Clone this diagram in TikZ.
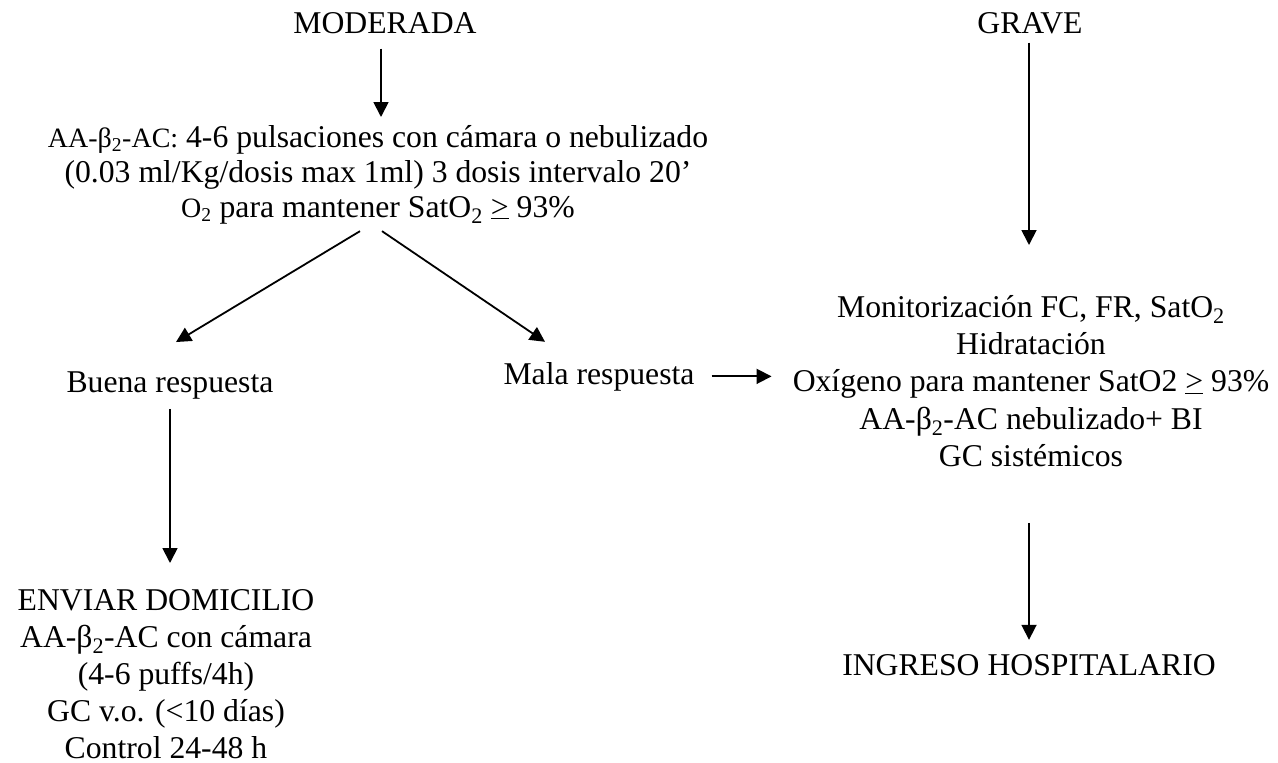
\documentclass[tikz,border=0pt]{standalone}
\usepackage{fontspec}
\setmainfont{Liberation Serif}
\usetikzlibrary{arrows.meta}
\newcommand\fsz{\fontsize{31.7}{35}\selectfont}
\newcommand\fszb{\fontsize{31.7}{37.3}\selectfont}
\newcommand\fszc{\fontsize{31.7}{37}\selectfont}
\newcommand\sml{\fontsize{28}{35}\selectfont}
\newcommand\geu{\underline{>}}
\newcommand\tstrut{\rule{0pt}{25pt}}
\tikzset{
  lbl/.style={inner sep=0pt, font=\fsz},
  blk/.style={inner sep=0pt, align=center, anchor=north},
  arr/.style={line width=1.8pt, -{Triangle[length=15pt,width=15pt]}},
}
\begin{document}
\begin{tikzpicture}[x=1pt,y=-1pt]
\useasboundingbox (0,0) rectangle (1278,763);
\node[lbl, anchor=base] (mod) at (385,33) {MODERADA};
\node[lbl, anchor=base] (grave) at (1030,33) {GRAVE};
\node[blk, font=\fsz] (top) at (378,122) {\tstrut{\sml AA-β\textsubscript{2}-AC:} 4-6 pulsaciones con cámara o nebulizado\\
(0.03 ml/Kg/dosis max 1ml) 3 dosis intervalo 20’\\
{\sml O\textsubscript{2}} para mantener SatO\textsubscript{2} \geu{} 93\%};
\node[lbl, anchor=base] (buena) at (170,392) {Buena respuesta};
\node[lbl, anchor=base] (mala) at (599,384) {Mala respuesta};
\node[blk, font=\fszb] (trat) at (1031,292) {\tstrut Monitorización FC, FR, SatO\textsubscript{2}\\
Hidratación\\
Oxígeno para mantener SatO2 \geu{} 93\%\\
AA-β\textsubscript{2}-AC nebulizado+ BI\\
GC sistémicos};
\node[blk, font=\fszc] (casa) at (166,585) {\tstrut ENVIAR DOMICILIO\\
AA-β\textsubscript{2}-AC con cámara\\
(4-6 puffs/4h)\\
GC v.o. (<10 días)\\
Control 24-48 h};
\node[lbl, anchor=base] (hosp) at (1029,675) {INGRESO HOSPITALARIO};
\draw[arr] ([xshift=-4pt,yshift=-15pt]mod.south) -- ([xshift=-4pt,yshift=5pt]mod.south |- top.north);
\draw[arr] ([xshift=-18pt,yshift=-7pt]top.south) -- ([xshift=6pt,yshift=29pt]buena.north);
\draw[arr] ([xshift=4pt,yshift=-7pt]top.south) -- ([xshift=-54pt,yshift=20pt]mala.north);
\draw[arr] ([yshift=-10pt]buena.south) -- ([yshift=22pt]buena.south |- casa.north);
\draw[arr] ([xshift=17pt]mala.east) -- ([xshift=-21pt]mala.east -| trat.west);
\draw[arr] ([xshift=-1pt,yshift=-9pt]grave.south) -- ([xshift=-1pt,yshift=47pt]grave.south |- trat.north);
\draw[arr] ([xshift=-2pt,yshift=-56pt]trat.south) -- ([xshift=-2pt,yshift=14pt]trat.south |- hosp.north);
\end{tikzpicture}
\end{document}
